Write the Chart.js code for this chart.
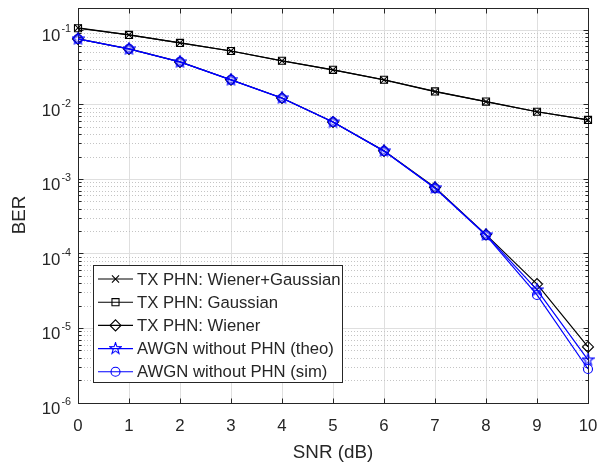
<!DOCTYPE html>
<html>
<head>
<meta charset="utf-8">
<script src="https://cdn.jsdelivr.net/npm/chart.js@4/dist/chart.umd.min.js"></script>
<style>
  body { margin: 0; background: #fff; }
  canvas { display: block; }
</style>
</head>
<body>
<canvas id="ber" width="598" height="466"></canvas>
<script>
// SNR axis and BER curves
const snr = [0, 1, 2, 3, 4, 5, 6, 7, 8, 9, 10];
const berWienerGauss = [0.108, 0.087, 0.068, 0.053, 0.039, 0.0295, 0.0217, 0.0151, 0.0111, 0.0081, 0.0063];
const berGauss = [0.107, 0.087, 0.068, 0.053, 0.0392, 0.0296, 0.0218, 0.0152, 0.0111, 0.0081, 0.0063];
const berWiener = [0.077, 0.0565, 0.0378, 0.0218, 0.0124, 0.0059, 0.00242, 0.00078, 0.000182, 0.0000395, 0.00000565];
const berTheo = [0.0768, 0.0564, 0.0377, 0.0217, 0.0124, 0.0059, 0.00241, 0.00077, 0.00018, 0.0000329, 0.00000378];
const berSim = [0.0769, 0.0565, 0.0378, 0.0217, 0.0123, 0.0059, 0.0024, 0.00076, 0.000178, 0.0000282, 0.00000286];

// ticks
const xTicks = [0, 1, 2, 3, 4, 5, 6, 7, 8, 9, 10];
const yDecades = [-6, -5, -4, -3, -2, -1];
const yMinor = [1, 2, 3, 4, 5, 6, 7, 8, 9];
const yMin = 1e-6, yMax = 0.2;

const legendLabels = [
  "TX PHN: Wiener+Gaussian",
  "TX PHN: Gaussian",
  "TX PHN: Wiener",
  "AWGN without PHN (theo)",
  "AWGN without PHN (sim)"
];

const FONT = "'Liberation Sans', Arial, Helvetica, sans-serif";
const TXT = "#262626";
const BLUE = "#0000ff";

let yTickValues = [];
yDecades.forEach(e => yMinor.forEach(m => yTickValues.push(+(m * Math.pow(10, e)).toPrecision(6))));
yTickValues = yTickValues.filter(v => v <= yMax);

const isMajor = v => Math.abs(Math.log10(v) - Math.round(Math.log10(v))) < 1e-6;

// pentagram marker (MATLAB 'p')
function makeStar(color) {
  const c = document.createElement("canvas");
  c.width = 13; c.height = 13;
  const g = c.getContext("2d");
  g.strokeStyle = color; g.lineWidth = 1.1;
  g.beginPath();
  for (let i = 0; i < 10; i++) {
    const r = i % 2 === 0 ? 6 : 2.4;
    const a = -Math.PI / 2 + i * Math.PI / 5;
    const px = 6.5 + r * Math.cos(a), py = 6.5 + r * Math.sin(a);
    i === 0 ? g.moveTo(px, py) : g.lineTo(px, py);
  }
  g.closePath();
  g.stroke();
  return c;
}
const star = makeStar(BLUE);

function series(label, ys, color, style, radius, order) {
  return {
    label: label,
    data: snr.map((x, i) => ({ x: x, y: ys[i] })),
    borderColor: color,
    borderWidth: 1.2,
    pointStyle: style,
    pointRadius: radius,
    pointBorderColor: color,
    pointBackgroundColor: "rgba(0,0,0,0)",
    pointBorderWidth: 1.1,
    tension: 0,
    clip: false,
    order: order
  };
}

const align = v => Math.round(v - 0.5) + 0.5;

const framePlugin = {
  id: "frame",
  beforeDatasetsDraw(chart) {
    const { ctx, chartArea: a, scales } = chart;
    const L = align(a.left), R = align(a.right), T = align(a.top), B = align(a.bottom);
    ctx.save();
    ctx.strokeStyle = TXT;
    ctx.lineWidth = 1;
    ctx.strokeRect(L, T, R - L, B - T);
    ctx.beginPath();
    xTicks.forEach(v => {
      const px = align(scales.x.getPixelForValue(v));
      ctx.moveTo(px, B); ctx.lineTo(px, B - 5);
      ctx.moveTo(px, T); ctx.lineTo(px, T + 5);
    });
    yTickValues.forEach(v => {
      const py = align(scales.y.getPixelForValue(v));
      const len = isMajor(v) ? 5 : 3;
      ctx.moveTo(L, py); ctx.lineTo(L + len, py);
      ctx.moveTo(R, py); ctx.lineTo(R - len, py);
    });
    ctx.stroke();
    ctx.restore();
  },
  afterDraw(chart) {
    const { ctx, chartArea: a, scales } = chart;
    ctx.save();
    ctx.fillStyle = TXT;
    // x tick labels
    ctx.font = "16.8px " + FONT;
    ctx.textAlign = "center";
    ctx.textBaseline = "alphabetic";
    xTicks.forEach(v => ctx.fillText(String(v), scales.x.getPixelForValue(v), 430.5));
    // y tick labels 10^e
    yDecades.forEach(e => {
      const py = scales.y.getPixelForValue(Math.pow(10, e));
      ctx.font = "10.8px " + FONT;
      ctx.textAlign = "right";
      const ex = String(e);
      const w = ctx.measureText(ex).width;
      ctx.fillText(ex, 71, py + 1.7);
      ctx.font = "16.8px " + FONT;
      ctx.fillText("10", 71 - w - 1, py + 10.7);
    });
    // axis titles
    ctx.font = "18.8px " + FONT;
    ctx.textAlign = "center";
    ctx.fillText("SNR (dB)", (a.left + a.right) / 2, 458);
    ctx.translate(25, 215);
    ctx.rotate(-Math.PI / 2);
    ctx.fillText("BER", 0, 0);
    ctx.restore();

    // legend box
    const box = { l: 93.5, t: 265.5, r: 342.5, b: 382.5 };
    ctx.save();
    ctx.fillStyle = "#fff";
    ctx.fillRect(box.l, box.t, box.r - box.l, box.b - box.t);
    ctx.strokeStyle = TXT;
    ctx.lineWidth = 1;
    ctx.strokeRect(box.l, box.t, box.r - box.l, box.b - box.t);
    chart.data.datasets.forEach((ds, i) => {
      const ry = 279 + i * 23.2;
      ctx.strokeStyle = ds.borderColor;
      ctx.lineWidth = 1.1;
      ctx.beginPath();
      ctx.moveTo(98, ry); ctx.lineTo(133, ry);
      ctx.stroke();
      ctx.fillStyle = "rgba(0,0,0,0)";
      Chart.helpers.drawPoint(ctx, {
        pointStyle: ds.pointStyle, rotation: 0,
        radius: ds.pointRadius, borderWidth: 1
      }, 115.5, ry);
      ctx.fillStyle = TXT;
      ctx.font = "16.7px " + FONT;
      ctx.textAlign = "left";
      ctx.textBaseline = "alphabetic";
      ctx.fillText(legendLabels[i], 137, ry + 5.5);
    });
    ctx.restore();
  }
};

new Chart(document.getElementById("ber"), {
  type: "line",
  data: {
    datasets: [
      series(legendLabels[0], berWienerGauss, "#000000", "crossRot", 5, 2),
      series(legendLabels[1], berGauss, "#000000", "rect", 5, 2),
      series(legendLabels[2], berWiener, "#000000", "rectRot", 5.5, 1),
      series(legendLabels[3], berTheo, BLUE, star, 5, 0),
      series(legendLabels[4], berSim, BLUE, "circle", 4.5, 0)
    ]
  },
  options: {
    responsive: false,
    animation: false,
    devicePixelRatio: 1,
    layout: { padding: { left: 78, right: 10, top: 8, bottom: 63 } },
    plugins: { legend: { display: false }, tooltip: { enabled: false } },
    scales: {
      x: {
        type: "linear",
        min: 0,
        max: 10,
        afterBuildTicks: s => { s.ticks = xTicks.map(v => ({ value: v })); },
        ticks: { display: false },
        grid: { color: "#dfdfdf", lineWidth: 1, drawTicks: false },
        border: { display: false }
      },
      y: {
        type: "logarithmic",
        min: yMin,
        max: yMax,
        afterBuildTicks: s => { s.ticks = yTickValues.map(v => ({ value: v })); },
        ticks: { display: false },
        grid: {
          drawTicks: false,
          lineWidth: 1,
          color: c => (c.tick && !isMajor(c.tick.value)) ? "#c4c4c4" : "#dfdfdf"
        },
        border: {
          display: false,
          dash: c => (c.tick && !isMajor(c.tick.value)) ? [1, 2] : []
        }
      }
    }
  },
  plugins: [framePlugin]
});
</script>
</body>
</html>
